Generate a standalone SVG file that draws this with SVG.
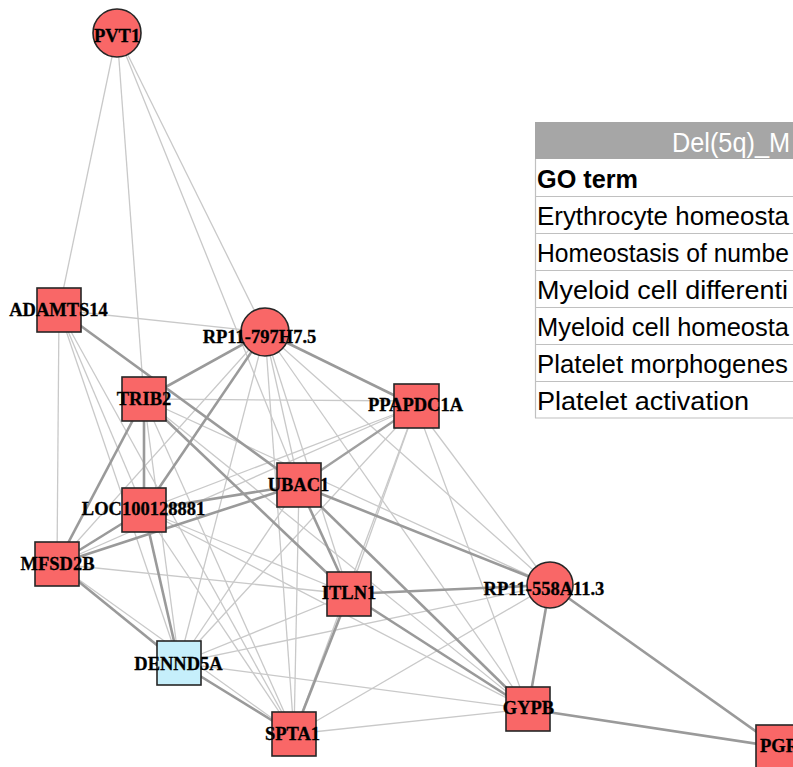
<svg xmlns="http://www.w3.org/2000/svg" width="793" height="767" viewBox="0 0 793 767">
<style>
.thin{stroke:#c9c9c9;stroke-width:1.3;fill:none}
.thick{stroke:#9a9a9a;stroke-width:2.6;fill:none}
.med{stroke:#a0a0a0;stroke-width:2.3;fill:none}
.red{fill:#f96767;stroke:#262626;stroke-width:1.6}
.blue{fill:#c6effb;stroke:#262626;stroke-width:1.6}
.lbl{font-family:"Liberation Serif","Times New Roman",serif;font-weight:bold;font-size:18.5px;fill:#000;stroke:#000;stroke-width:0.3;text-anchor:middle}
.cell{font-family:"Liberation Sans",Arial,sans-serif;font-size:26px;fill:#000}
.grid{stroke:#c0c0c0;stroke-width:1.2}
</style>
<rect width="793" height="767" fill="#fff"/>
<g id="go-table">
<rect x="535" y="122" width="258" height="37" fill="#a6a6a6"/>
<text class="cell" x="672" y="152" style="fill:#fff;font-size:27px" textLength="118" lengthAdjust="spacingAndGlyphs">Del(5q)_M</text>
<line class="grid" x1="535.5" y1="159" x2="535.5" y2="418"/>
<line class="grid" x1="535" y1="196.5" x2="793" y2="196.5"/>
<line class="grid" x1="535" y1="233.5" x2="793" y2="233.5"/>
<line class="grid" x1="535" y1="270.5" x2="793" y2="270.5"/>
<line class="grid" x1="535" y1="307.5" x2="793" y2="307.5"/>
<line class="grid" x1="535" y1="344.5" x2="793" y2="344.5"/>
<line class="grid" x1="535" y1="381.5" x2="793" y2="381.5"/>
<line class="grid" x1="535" y1="418" x2="793" y2="418"/>
<text class="cell" x="537" y="188" font-weight="bold" textLength="101" lengthAdjust="spacingAndGlyphs">GO term</text>
<text class="cell" x="537" y="225" textLength="252" lengthAdjust="spacingAndGlyphs">Erythrocyte homeosta</text>
<text class="cell" x="537" y="262" textLength="252" lengthAdjust="spacingAndGlyphs">Homeostasis of numbe</text>
<text class="cell" x="537" y="299" textLength="251" lengthAdjust="spacingAndGlyphs">Myeloid cell differenti</text>
<text class="cell" x="537" y="336" textLength="252" lengthAdjust="spacingAndGlyphs">Myeloid cell homeosta</text>
<text class="cell" x="537" y="373" textLength="251" lengthAdjust="spacingAndGlyphs">Platelet morphogenes</text>
<text class="cell" x="537" y="410" textLength="212" lengthAdjust="spacingAndGlyphs">Platelet activation</text>
</g>
<g id="connectors">
<line class="thin" x1="117" y1="33" x2="59" y2="310"/>
<line class="thin" x1="117" y1="33" x2="144" y2="399"/>
<line class="thin" x1="117" y1="33" x2="265" y2="332"/>
<line class="thin" x1="117" y1="33" x2="299" y2="485"/>
<line class="thin" x1="59" y1="310" x2="265" y2="332"/>
<line class="thin" x1="59" y1="310" x2="57" y2="564"/>
<line class="thin" x1="59" y1="310" x2="144" y2="510"/>
<line class="thin" x1="59" y1="310" x2="179" y2="663"/>
<line class="thin" x1="59" y1="310" x2="294" y2="734"/>
<line class="thin" x1="265" y1="332" x2="299" y2="485"/>
<line class="thin" x1="265" y1="332" x2="349" y2="594"/>
<line class="thin" x1="265" y1="332" x2="179" y2="663"/>
<line class="thin" x1="265" y1="332" x2="294" y2="734"/>
<line class="thin" x1="265" y1="332" x2="550" y2="585"/>
<line class="thin" x1="265" y1="332" x2="528" y2="709"/>
<line class="thin" x1="265" y1="332" x2="57" y2="564"/>
<line class="thin" x1="144" y1="399" x2="416" y2="401"/>
<line class="thin" x1="144" y1="399" x2="179" y2="663"/>
<line class="thin" x1="144" y1="399" x2="294" y2="734"/>
<line class="thin" x1="144" y1="399" x2="550" y2="585"/>
<line class="thin" x1="144" y1="399" x2="528" y2="709"/>
<line class="thin" x1="416" y1="406" x2="144" y2="510"/>
<line class="thin" x1="416" y1="406" x2="57" y2="564"/>
<line class="thin" x1="416" y1="406" x2="179" y2="663"/>
<line class="thin" x1="416" y1="406" x2="294" y2="734"/>
<line class="thin" x1="416" y1="406" x2="349" y2="594"/>
<line class="thin" x1="416" y1="406" x2="528" y2="709"/>
<line class="thin" x1="416" y1="406" x2="550" y2="585"/>
<line class="thin" x1="144" y1="510" x2="349" y2="594"/>
<line class="thin" x1="144" y1="510" x2="294" y2="734"/>
<line class="thin" x1="144" y1="510" x2="528" y2="709"/>
<line class="thin" x1="57" y1="564" x2="349" y2="594"/>
<line class="thin" x1="57" y1="564" x2="294" y2="734"/>
<line class="thin" x1="299" y1="485" x2="179" y2="663"/>
<line class="thin" x1="299" y1="485" x2="294" y2="734"/>
<line class="thin" x1="179" y1="663" x2="349" y2="594"/>
<line class="thin" x1="179" y1="663" x2="550" y2="585"/>
<line class="thin" x1="179" y1="663" x2="528" y2="709"/>
<line class="thin" x1="294" y1="734" x2="550" y2="585"/>
<line class="thin" x1="294" y1="734" x2="528" y2="709"/>
<line class="thick" x1="59" y1="310" x2="299" y2="485"/>
<line class="thick" x1="144" y1="399" x2="265" y2="332"/>
<line class="thick" x1="144" y1="399" x2="144" y2="510"/>
<line class="thick" x1="144" y1="399" x2="349" y2="594"/>
<line class="thick" x1="144" y1="399" x2="57" y2="564"/>
<line class="thick" x1="265" y1="332" x2="144" y2="510"/>
<line class="thick" x1="265" y1="332" x2="416" y2="406"/>
<line class="thick" x1="144" y1="510" x2="57" y2="564"/>
<line class="thick" x1="144" y1="510" x2="299" y2="485"/>
<line class="thick" x1="57" y1="564" x2="299" y2="485"/>
<line class="thick" x1="144" y1="510" x2="179" y2="663"/>
<line class="thick" x1="57" y1="564" x2="179" y2="663"/>
<line class="thick" x1="179" y1="663" x2="294" y2="734"/>
<line class="med" x1="299" y1="485" x2="416" y2="406"/>
<line class="thick" x1="299" y1="485" x2="349" y2="594"/>
<line class="thick" x1="299" y1="485" x2="550" y2="585"/>
<line class="thick" x1="299" y1="485" x2="528" y2="709"/>
<line class="thick" x1="349" y1="594" x2="550" y2="585"/>
<line class="thick" x1="349" y1="594" x2="528" y2="709"/>
<line class="thick" x1="349" y1="594" x2="294" y2="734"/>
<line class="thick" x1="550" y1="585" x2="528" y2="709"/>
<line class="thick" x1="550" y1="585" x2="778" y2="747"/>
<line class="thick" x1="528" y1="709" x2="778" y2="747"/>
</g>
<g id="PVT1"><circle class="red" cx="117" cy="33" r="24"/><text class="lbl" x="117" y="42">PVT1</text></g>
<g id="ADAMTS14"><rect class="red" x="37" y="288" width="44" height="44"/><text class="lbl" x="58.5" y="316">ADAMTS14</text></g>
<g id="RP11-797H7.5"><circle class="red" cx="265" cy="332" r="24"/><text class="lbl" x="259.5" y="343">RP11-797H7.5</text></g>
<g id="TRIB2"><rect class="red" x="122" y="377" width="44" height="44"/><text class="lbl" x="144" y="405">TRIB2</text></g>
<g id="PPAPDC1A"><rect class="red" x="394" y="384" width="45" height="44"/><text class="lbl" x="415.5" y="411">PPAPDC1A</text></g>
<g id="UBAC1"><rect class="red" x="277" y="463" width="44" height="44"/><text class="lbl" x="298.5" y="491">UBAC1</text></g>
<g id="LOC100128881"><rect class="red" x="122" y="488" width="44" height="44"/><text class="lbl" x="143.5" y="515">LOC100128881</text></g>
<g id="MFSD2B"><rect class="red" x="35" y="542" width="44" height="44"/><text class="lbl" x="57.5" y="570">MFSD2B</text></g>
<g id="ITLN1"><rect class="red" x="327" y="572" width="44" height="44"/><text class="lbl" x="349" y="599">ITLN1</text></g>
<g id="RP11-558A11.3"><circle class="red" cx="550" cy="585" r="23"/><text class="lbl" x="544" y="595">RP11-558A11.3</text></g>
<g id="DENND5A"><rect class="blue" x="157" y="641" width="44" height="44"/><text class="lbl" x="178.5" y="670">DENND5A</text></g>
<g id="SPTA1"><rect class="red" x="272" y="712" width="44" height="44"/><text class="lbl" x="292.5" y="740">SPTA1</text></g>
<g id="GYPB"><rect class="red" x="506" y="687" width="44" height="44"/><text class="lbl" x="528.5" y="714">GYPB</text></g>
<g id="PGR"><rect class="red" x="756" y="725" width="44" height="44"/><text class="lbl" x="760" y="752" style="text-anchor:start">PGR</text></g>
</svg>
